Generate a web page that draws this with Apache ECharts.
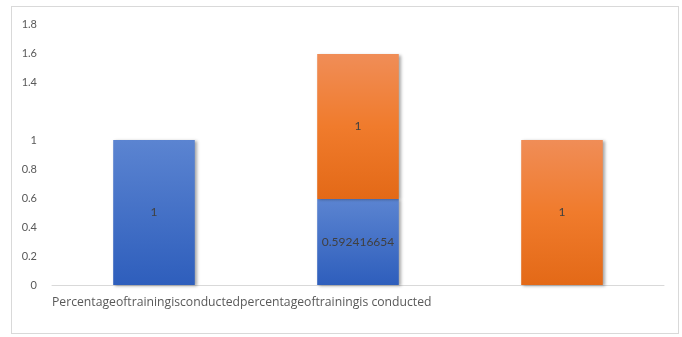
<!DOCTYPE html>
<html>
<head>
<meta charset="utf-8">
<script src="https://cdn.jsdelivr.net/npm/echarts@6/dist/echarts.min.js"></script>
<style>
  html, body { margin: 0; padding: 0; background: #fff; }
  #frame { position: absolute; left: 11px; top: 6px; width: 668px; height: 328px; border: 1px solid #d9d9d9; box-sizing: border-box; }
  #chart { position: absolute; left: 0; top: 0; width: 682px; height: 337px; }
</style>
</head>
<body>
<div id="frame"></div>
<div id="chart"></div>
<script>
// Category labels along the horizontal axis
const categories = ['Percentageoftrainingisconductedpercentageoftrainingis conducted', '', ''];
// Stacked series values
const seriesBlue = [1, 0.592416654, null];
const seriesOrange = [null, 1, 1];
// Value-axis tick labels that are shown
const yTicks = ['0', '0.2', '0.4', '0.6', '0.8', '1', '1.4', '1.6', '1.8'];

const blueFill = new echarts.graphic.LinearGradient(0, 0, 0, 1, [
  { offset: 0, color: '#5b84d1' },
  { offset: 1, color: '#2e5ebc' }
]);
const orangeFill = new echarts.graphic.LinearGradient(0, 0, 0, 1, [
  { offset: 0, color: '#f08d57' },
  { offset: 0.5, color: '#f07b2c' },
  { offset: 1, color: '#e36917' }
]);

const barShadow = {
  shadowColor: 'rgba(0,0,0,0.35)',
  shadowBlur: 3,
  shadowOffsetX: 2,
  shadowOffsetY: 1
};

const chart = echarts.init(document.getElementById('chart'), null, { renderer: 'canvas' });
chart.setOption({
  animation: false,
  grid: { left: 52, right: 18, top: 24, bottom: 52, containLabel: false },
  xAxis: {
    type: 'category',
    data: categories,
    axisLine: { show: true, lineStyle: { color: '#d9d9d9', width: 1 } },
    axisTick: { show: false },
    axisLabel: {
      interval: 0,
      align: 'left',
      padding: [0, 0, 0, -102],
      margin: 12,
      color: '#595959',
      fontFamily: 'Open Sans',
      fontSize: 12.2
    }
  },
  yAxis: {
    type: 'value',
    min: 0,
    max: 1.8,
    interval: 0.2,
    splitLine: { show: false },
    axisLine: { show: false },
    axisTick: { show: false },
    axisLabel: {
      margin: 15,
      color: '#595959',
      fontFamily: 'Lato',
      fontSize: 11,
      formatter: function (v) {
        const s = String(Math.round(v * 10) / 10);
        return yTicks.indexOf(s) >= 0 ? s : '';
      }
    }
  },
  series: [
    {
      type: 'bar',
      stack: 'total',
      data: seriesBlue,
      barWidth: '40%',
      itemStyle: Object.assign({ color: blueFill }, barShadow),
      label: {
        show: true,
        position: 'inside',
        color: '#404040',
        fontFamily: 'Lato',
        fontSize: 12,
        formatter: function (p) { return String(p.value); }
      }
    },
    {
      type: 'bar',
      stack: 'total',
      data: seriesOrange,
      barWidth: '40%',
      itemStyle: Object.assign({ color: orangeFill }, barShadow),
      label: {
        show: true,
        position: 'inside',
        color: '#404040',
        fontFamily: 'Lato',
        fontSize: 12,
        formatter: function (p) { return String(p.value); }
      }
    }
  ]
});
</script>
</body>
</html>
